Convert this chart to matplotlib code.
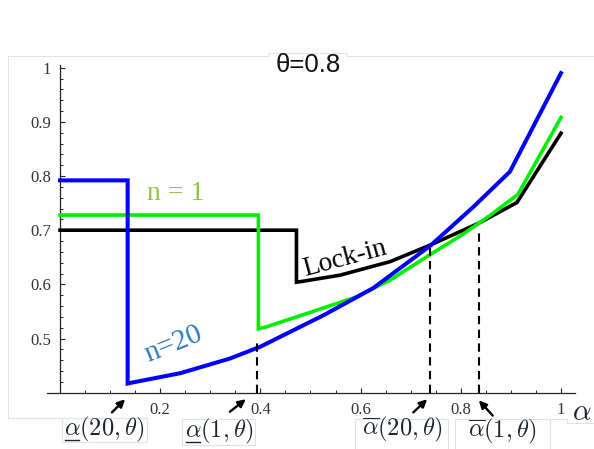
import numpy as np
import matplotlib.pyplot as plt
from matplotlib.transforms import Affine2D

plt.rcParams['mathtext.fontset'] = 'cm'

W, H = 594, 449

# ── Curves (alpha, value) ─────────────────────────────────────────────────────
alpha_n20 = [0.0, 0.135, 0.135, 0.14, 0.24, 0.339, 0.40, 0.526, 0.625, 0.74, 0.825, 0.898, 1.0]
value_n20 = [0.792, 0.792, 0.417, 0.418, 0.436, 0.463, 0.485, 0.543, 0.593, 0.672, 0.743, 0.808, 0.990]

alpha_n1 = [0.0, 0.396, 0.396, 0.41, 0.492, 0.592, 0.659, 0.739, 0.80, 0.858, 0.914, 1.0]
value_n1 = [0.728, 0.728, 0.518, 0.521, 0.546, 0.577, 0.608, 0.655, 0.690, 0.727, 0.766, 0.908]

alpha_lock = [0.0, 0.472, 0.472, 0.48, 0.559, 0.659, 0.74, 0.836, 0.912, 1.0]
value_lock = [0.700, 0.700, 0.604, 0.605, 0.617, 0.642, 0.673, 0.713, 0.751, 0.879]

# threshold markers: dashed guides
dash_alpha = [0.394, 0.739, 0.836]
dash_top = [0.492, 0.668, 0.703]

x_major = [0.2, 0.4, 0.6, 0.8, 1.0]
x_major_labels = ['0.2', '0.4', '0.6', '0.8', '1']
y_major = [0.5, 0.6, 0.7, 0.8, 0.9, 1.0]
y_major_labels = ['0.5', '0.6', '0.7', '0.8', '0.9', '1']
x_minor = np.arange(0.05, 1.0001, 0.05)
y_minor = np.arange(0.42, 1.0001, 0.02)

# ── Figure ────────────────────────────────────────────────────────────────────
fig = plt.figure(figsize=(W / 100, H / 100), dpi=100)
ax = fig.add_axes([47 / W, 1 - 392.7 / H, (575 - 47) / W, (392.7 - 65) / H])
ax.set_xlim(-0.026, 1.028)
ax.set_ylim(0.4, 1.005)

ax.plot(alpha_lock, value_lock, color='black', lw=2.6, solid_joinstyle='miter', zorder=3)
ax.plot(alpha_n1, value_n1, color='#00ee00', lw=2.6, solid_joinstyle='miter', zorder=4)
ax.plot(alpha_n20, value_n20, color='#0000ff', lw=2.9, solid_joinstyle='miter', zorder=5)
for xd, yt in zip(dash_alpha, dash_top):
    ax.plot([xd, xd], [0.4, yt], color='black', lw=1.5, dashes=(4, 2.6), zorder=6)

# axes in the Mathematica style: crossing at (0, 0.4), inward ticks
for s in ['top', 'right']:
    ax.spines[s].set_visible(False)
ax.spines['left'].set_position(('data', 0))
for s in ['left', 'bottom']:
    ax.spines[s].set_color('#222222')
    ax.spines[s].set_linewidth(0.9)

ax.set_xticks(x_major)
ax.set_xticklabels(x_major_labels)
ax.set_xticks([v for v in x_minor if min(abs(v - m) for m in x_major) > 1e-6], minor=True)
ax.set_yticks(y_major)
ax.set_yticklabels(y_major_labels)
ax.set_yticks([v for v in y_minor if min(abs(v - m) for m in y_major) > 1e-6], minor=True)
ax.tick_params(which='major', direction='in', length=3.6, width=0.8, color='#222222',
               labelsize=12, labelcolor='#333333', pad=6.5)
ax.tick_params(which='minor', direction='in', length=2.0, width=0.7, color='#222222')
for lab in ax.get_xticklabels() + ax.get_yticklabels():
    lab.set_family('Liberation Serif')

# ── Text ──────────────────────────────────────────────────────────────────────
ax.text(0.23, 0.768, 'n = 1', color='#8cc63f', fontsize=20, family='Liberation Serif',
        ha='center', va='center')
ax.text(0.226, 0.489, 'n=20', color='#2a7bbf', fontsize=21, family='Liberation Serif',
        ha='center', va='center', rotation=22)
ax.text(0.569, 0.648, 'Lock-in', color='black', fontsize=19.5, family='Liberation Serif',
        ha='center', va='center', rotation=15)

pix = Affine2D().scale(1, -1).translate(0, H)
fig.text(308, 65, 'θ=0.8', transform=pix, fontsize=18.5, family='Liberation Sans',
         color='#111111', ha='center', va='center')

# threshold labels below the axis
lab_kw = dict(transform=pix, fontsize=17.5, color='#1c2433', ha='center', va='center')
under = [fig.text(104, 429, r'$\alpha(20,\theta)$', **lab_kw),
         fig.text(219, 431, r'$\alpha(1,\theta)$', **lab_kw)]
fig.text(402, 429, r'$\overline{\alpha}(20,\theta)$', **lab_kw)
fig.text(502, 431, r'$\overline{\alpha}(1,\theta)$', **lab_kw)
fig.text(582, 412, r'$\alpha$', transform=pix, fontsize=21, color='#1c2433',
         ha='center', va='center')

# underline the leading alpha of the lower-bound labels
fig.canvas.draw()
rend = fig.canvas.get_renderer()
for t in under:
    bb = t.get_window_extent(rend)
    x0 = bb.x0 + 1
    y = H - bb.y0 - 3.5
    fig.add_artist(plt.Line2D([x0, x0 + 14.5], [y, y], transform=pix, color='#1c2433', lw=1.0))

# arrows pointing at the thresholds
arrows = [((0.13, 0.388), (-9.5, -9.5)), ((0.371, 0.388), (-11.5, -9)),
          ((0.733, 0.388), (-10, -9.5)), ((0.836, 0.386), (10, -11))]
for xy, off in arrows:
    ax.annotate('', xy=xy, xytext=off, textcoords='offset points', annotation_clip=False,
                arrowprops=dict(arrowstyle='-|>,head_length=0.45,head_width=0.22',
                                color='black', lw=1.7, shrinkA=0, shrinkB=0))

# faint outline of the pasted panel
frame = '#e2e2e2'
outline = [
    ([8, 8, 62], [56, 418, 418]),
    ([8, 268, 268, 347, 347, 594], [56, 56, 53, 53, 56, 56]),
    ([62, 62, 147, 147, 62], [418, 442, 442, 418, 418]),
    ([182, 182, 255, 255, 182], [419, 445, 445, 419, 419]),
    ([355, 355, 448, 448], [449, 419, 419, 449]),
    ([455, 455, 548], [449, 419, 419]),
    ([550, 550, 567, 567, 594], [449, 419, 419, 423, 423]),
]
for xs, ys in outline:
    fig.add_artist(plt.Line2D(xs, ys, transform=pix, color=frame, lw=0.8, zorder=0))

fig.savefig('out.png', dpi=100, facecolor='white')
